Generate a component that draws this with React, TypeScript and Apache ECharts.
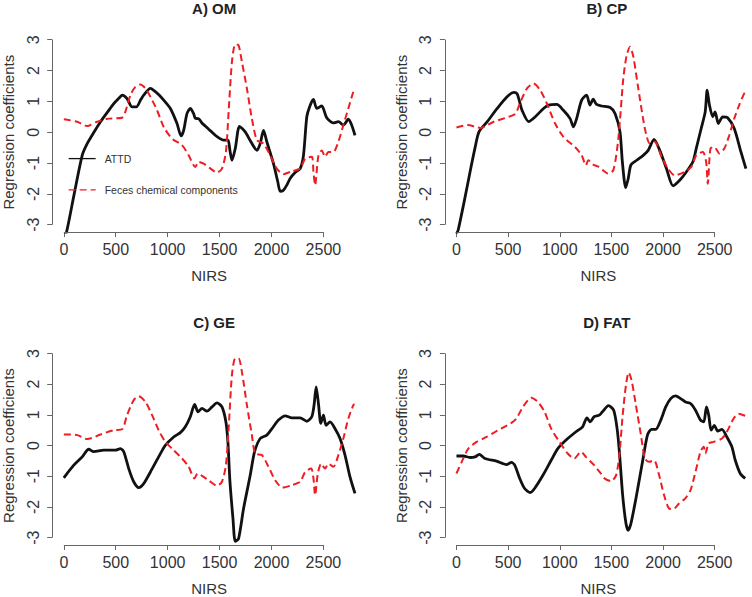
import React, { useEffect, useRef } from 'react';
import * as echarts from 'echarts';

const xTicks = [0, 500, 1000, 1500, 2000, 2500];
const yTicks = [-3, -2, -1, 0, 1, 2, 3];
const panelTitles = ['A) OM', 'B) CP', 'C) GE', 'D) FAT'];
const seriesNames = ['ATTD', 'Feces chemical components'];

const omAttd = [[0,-3.4],[26,-3.24],[100,-2.0],[177,-0.75],[225,-0.37],[290,0.0],[353,0.34],[420,0.65],[481,0.93],[530,1.1],[561,1.2],[609,1.09],[657,0.82],[699,0.82],[740,1.05],[769,1.2],[834,1.42],[866,1.36],[920,1.2],[962,1.04],[1026,0.77],[1090,0.28],[1129,-0.12],[1154,0.06],[1186,0.6],[1218,0.77],[1250,0.6],[1266,0.45],[1298,0.44],[1330,0.3],[1362,0.2],[1400,0.08],[1427,0.0],[1458,-0.1],[1500,-0.2],[1538,-0.26],[1581,-0.26],[1600,-0.6],[1619,-0.91],[1651,-0.53],[1692,0.19],[1747,0.01],[1800,-0.3],[1860,-0.59],[1891,-0.37],[1923,0.06],[1955,-0.31],[2019,-1.02],[2060,-1.6],[2084,-1.92],[2115,-1.88],[2150,-1.7],[2179,-1.5],[2230,-1.3],[2276,-1.18],[2308,-0.75],[2340,0.5],[2370,0.85],[2404,1.06],[2436,0.77],[2484,0.85],[2532,0.47],[2596,0.3],[2644,0.34],[2692,0.23],[2740,0.42],[2770,0.25],[2804,-0.1]];
const omFeces = [[0,0.42],[129,0.34],[225,0.2],[321,0.34],[433,0.44],[561,0.47],[593,0.67],[641,1.2],[689,1.47],[737,1.55],[786,1.42],[834,1.15],[898,0.71],[962,0.17],[1042,-0.21],[1138,-0.42],[1202,-0.75],[1266,-1.13],[1298,-0.96],[1346,-1.02],[1400,-1.15],[1475,-1.31],[1523,-1.18],[1561,-0.64],[1587,0.66],[1619,2.28],[1651,2.85],[1683,2.82],[1715,2.28],[1763,1.42],[1811,0.44],[1860,-0.26],[1923,-0.37],[1987,-0.75],[2051,-1.18],[2115,-1.36],[2195,-1.27],[2276,-1.18],[2324,-0.86],[2388,-0.8],[2404,-1.29],[2420,-1.72],[2452,-0.75],[2484,-0.59],[2516,-0.8],[2548,-0.64],[2596,-0.64],[2644,-0.31],[2692,0.23],[2740,0.77],[2788,1.31],[2800,1.38]];

const cpAttd = [[0,-3.3],[16,-3.18],[74,-2.26],[138,-1.18],[180,-0.5],[218,0.01],[298,0.34],[394,0.77],[490,1.15],[555,1.29],[587,1.25],[610,1.0],[635,0.71],[699,0.34],[763,0.5],[843,0.77],[891,0.88],[971,0.9],[1035,0.71],[1100,0.44],[1132,0.17],[1163,0.44],[1212,1.04],[1260,1.2],[1292,0.88],[1324,1.07],[1356,0.9],[1408,0.85],[1488,0.8],[1536,0.6],[1583,0.01],[1606,-0.96],[1638,-1.8],[1663,-1.5],[1689,-1.06],[1744,-0.91],[1808,-0.75],[1856,-0.59],[1913,-0.23],[1968,-0.59],[2033,-1.18],[2097,-1.74],[2161,-1.56],[2225,-1.29],[2289,-0.96],[2321,-0.53],[2369,0.12],[2408,0.66],[2427,1.36],[2449,0.88],[2481,0.5],[2504,0.66],[2535,0.28],[2577,0.5],[2625,0.47],[2689,0.12],[2754,-0.64],[2802,-1.18]];
const cpFeces = [[0,0.15],[106,0.23],[234,0.14],[362,0.34],[507,0.5],[571,0.6],[619,0.98],[683,1.42],[747,1.58],[811,1.36],[875,0.93],[955,0.28],[1035,-0.15],[1148,-0.48],[1212,-0.75],[1253,-1.07],[1276,-0.91],[1324,-1.05],[1375,-1.12],[1420,-1.24],[1465,-1.34],[1519,-1.23],[1567,-0.21],[1615,1.74],[1648,2.5],[1680,2.77],[1712,2.45],[1760,1.42],[1824,0.12],[1872,-0.37],[1920,-0.31],[1985,-0.8],[2048,-1.18],[2113,-1.4],[2209,-1.29],[2273,-1.13],[2321,-0.75],[2385,-0.64],[2417,-0.96],[2433,-1.67],[2459,-0.53],[2497,-0.48],[2545,-0.69],[2593,-0.53],[2641,-0.1],[2689,0.44],[2737,0.88],[2785,1.25],[2800,1.3]];

const geAttd = [[0,-1.05],[96,-0.64],[177,-0.37],[240,-0.12],[288,-0.2],[385,-0.15],[497,-0.15],[545,-0.1],[577,-0.2],[625,-0.75],[673,-1.18],[721,-1.37],[769,-1.24],[834,-0.86],[913,-0.37],[978,0.01],[1058,0.28],[1122,0.42],[1170,0.61],[1218,0.94],[1260,1.34],[1292,1.1],[1331,1.21],[1379,1.12],[1427,1.26],[1475,1.39],[1523,1.26],[1561,0.77],[1580,0.12],[1600,-1.18],[1629,-2.38],[1651,-3.12],[1683,-3.03],[1731,-2.05],[1795,-0.97],[1837,-0.2],[1891,0.23],[1955,0.34],[2004,0.55],[2067,0.83],[2132,0.97],[2196,0.9],[2276,0.9],[2340,0.79],[2388,0.94],[2410,1.32],[2430,1.91],[2452,1.37],[2475,0.72],[2500,0.99],[2526,0.66],[2564,0.77],[2612,0.55],[2660,0.23],[2708,-0.31],[2756,-1.02],[2804,-1.56]];
const geFeces = [[0,0.36],[129,0.34],[225,0.21],[353,0.36],[481,0.5],[561,0.53],[609,0.99],[673,1.48],[721,1.61],[786,1.42],[850,0.99],[913,0.5],[978,0.12],[1058,-0.15],[1138,-0.42],[1202,-0.69],[1257,-1.07],[1289,-0.91],[1346,-1.02],[1400,-1.15],[1475,-1.31],[1523,-1.18],[1561,-0.64],[1587,0.55],[1619,2.3],[1651,2.84],[1683,2.84],[1715,2.4],[1763,1.32],[1811,0.34],[1843,-0.26],[1907,-0.31],[1971,-0.69],[2035,-1.13],[2106,-1.37],[2196,-1.29],[2276,-1.18],[2324,-0.86],[2382,-0.75],[2404,-1.07],[2420,-1.62],[2446,-0.91],[2478,-0.59],[2516,-0.75],[2548,-0.59],[2596,-0.69],[2644,-0.31],[2692,0.23],[2740,0.88],[2788,1.32],[2800,1.35]];

const fatAttd = [[0,-0.34],[67,-0.34],[131,-0.39],[179,-0.37],[221,-0.29],[275,-0.42],[388,-0.51],[484,-0.62],[532,-0.55],[564,-0.64],[612,-1.07],[660,-1.4],[715,-1.53],[756,-1.4],[837,-0.97],[917,-0.48],[981,-0.1],[1061,0.18],[1157,0.45],[1221,0.61],[1263,0.9],[1295,0.77],[1333,0.94],[1382,0.99],[1413,1.1],[1471,1.3],[1522,1.15],[1555,0.55],[1577,-0.2],[1609,-1.62],[1641,-2.54],[1663,-2.76],[1689,-2.54],[1737,-1.73],[1801,-0.53],[1849,0.34],[1888,0.53],[1929,0.53],[1978,0.83],[2026,1.26],[2074,1.53],[2122,1.62],[2170,1.53],[2218,1.42],[2266,1.37],[2314,1.15],[2362,0.83],[2394,0.77],[2420,1.26],[2442,0.99],[2465,0.5],[2497,0.66],[2529,0.47],[2570,0.53],[2618,0.28],[2666,-0.04],[2699,-0.48],[2747,-0.91],[2795,-1.07]];
const fatFeces = [[0,-0.91],[51,-0.53],[115,-0.1],[195,0.12],[291,0.28],[388,0.47],[532,0.74],[580,0.88],[644,1.26],[724,1.56],[788,1.42],[853,1.1],[917,0.55],[997,0.12],[1077,-0.26],[1141,-0.42],[1205,-0.2],[1253,-0.37],[1333,-0.64],[1397,-0.91],[1433,-1.07],[1497,-1.16],[1545,-0.97],[1577,-0.31],[1609,0.99],[1641,1.97],[1667,2.38],[1695,2.13],[1737,1.32],[1786,0.34],[1824,-0.42],[1865,-0.53],[1913,-0.48],[1962,-0.97],[2010,-1.62],[2058,-2.05],[2099,-2.07],[2154,-1.89],[2218,-1.71],[2266,-1.45],[2314,-0.86],[2362,-0.2],[2394,-0.04],[2410,-0.26],[2442,0.07],[2490,0.12],[2570,0.23],[2618,0.45],[2683,0.88],[2731,1.04],[2795,0.97]];

const attdSets = [omAttd, cpAttd, geAttd, fatAttd];
const fecesSets = [omFeces, cpFeces, geFeces, fatFeces];

const FONT = '"Liberation Sans", Arial, sans-serif';
const AXIS_COLOR = '#666666';
const TEXT_COLOR = '#333333';

export default function App() {
  const ref = useRef<HTMLDivElement>(null);
  useEffect(() => {
    document.body.style.margin = '0';
    const chart = echarts.init(ref.current!, null, { renderer: 'svg' });
    const grids = [
      { left: 52.2, top: 32.3, width: 314, height: 199.8 },
      { left: 444.9, top: 32.3, width: 307.1, height: 199.8 },
      { left: 52.2, top: 346.1, width: 314, height: 199.8 },
      { left: 444.9, top: 346.1, width: 307.1, height: 199.8 },
    ];
    const xMin = -112;
    const xMax = [2912, 2861, 2912, 2861];
    const yMin = -3.24;
    const yMax = 3.24;

    const xAxes = grids.map((_, i) => ({
      type: 'value',
      gridIndex: i,
      min: xMin,
      max: xMax[i],
      name: 'NIRS',
      nameLocation: 'middle',
      nameGap: 36,
      nameTextStyle: { fontFamily: FONT, fontSize: 15, color: TEXT_COLOR },
      axisLine: { show: false, onZero: false },
      splitLine: { show: false },
      axisTick: { show: true, length: 5, customValues: xTicks, lineStyle: { color: AXIS_COLOR, width: 1 } },
      axisLabel: { customValues: xTicks, margin: 9, fontFamily: FONT, fontSize: 16, color: TEXT_COLOR, formatter: (v: number) => String(v) },
    }));
    const yAxes = grids.map((_, i) => ({
      type: 'value',
      gridIndex: i,
      min: yMin,
      max: yMax,
      name: 'Regression coefficients',
      nameLocation: 'middle',
      nameGap: 36,
      nameTextStyle: { fontFamily: FONT, fontSize: 15, color: TEXT_COLOR },
      axisLine: { show: false, onZero: false },
      splitLine: { show: false },
      axisTick: { show: true, length: 5, customValues: yTicks, lineStyle: { color: AXIS_COLOR, width: 1 } },
      axisLabel: { customValues: yTicks, rotate: 90, margin: 11, fontFamily: FONT, fontSize: 16, color: TEXT_COLOR, formatter: (v: number) => String(v) },
    }));

    const series: any[] = [];
    grids.forEach((_, i) => {
      series.push({
        type: 'line',
        xAxisIndex: i,
        yAxisIndex: i,
        data: [[xMin, yMin]],
        symbol: 'none',
        silent: true,
        clip: false,
        lineStyle: { width: 0, opacity: 0 },
        markLine: {
          silent: true,
          symbol: 'none',
          label: { show: false },
          lineStyle: { color: AXIS_COLOR, width: 1, type: 'solid' },
          emphasis: { disabled: true },
          data: [
            [{ coord: [xTicks[0], yMin] }, { coord: [xTicks[xTicks.length - 1], yMin] }],
            [{ coord: [xMin, yTicks[0]] }, { coord: [xMin, yTicks[yTicks.length - 1]] }],
          ],
        },
      });
      series.push({
        name: seriesNames[0],
        type: 'line',
        xAxisIndex: i,
        yAxisIndex: i,
        data: attdSets[i],
        symbol: 'none',
        smooth: 0.25,
        lineStyle: { color: '#111111', width: 2.8 },
        itemStyle: { color: '#111111' },
        z: 3,
      });
      series.push({
        name: seriesNames[1],
        type: 'line',
        xAxisIndex: i,
        yAxisIndex: i,
        data: fecesSets[i],
        symbol: 'none',
        smooth: 0.25,
        lineStyle: { color: '#ee1d23', width: 2, type: [7, 4] },
        itemStyle: { color: '#ee1d23' },
        z: 4,
      });
    });

    const titleCenters = grids.map((g) => g.left + 157);
    const titles = panelTitles.map((t, i) => ({
      text: t,
      left: titleCenters[i],
      top: grids[i].top - 36,
      textAlign: 'center',
      textStyle: { fontFamily: FONT, fontSize: 15, fontWeight: 'bold', color: '#222222' },
    }));

    chart.setOption({
      animation: false,
      backgroundColor: '#ffffff',
      title: titles,
      grid: grids.map((g) => ({ ...g, containLabel: false })),
      xAxis: xAxes,
      yAxis: yAxes,
      legend: {
        data: seriesNames,
        orient: 'vertical',
        left: 63,
        top: 148,
        itemWidth: 27,
        itemHeight: 14,
        itemGap: 20,
        itemStyle: { opacity: 0 },
        lineStyle: { width: 1.3 },
        textStyle: { fontFamily: FONT, fontSize: 10.5, color: '#333333', padding: [0, 0, 0, 4] },
        selectedMode: false,
      },
      series,
    });
    return () => chart.dispose();
  }, []);
  return <div ref={ref} style={{ width: 752, height: 597 }} />;
}
